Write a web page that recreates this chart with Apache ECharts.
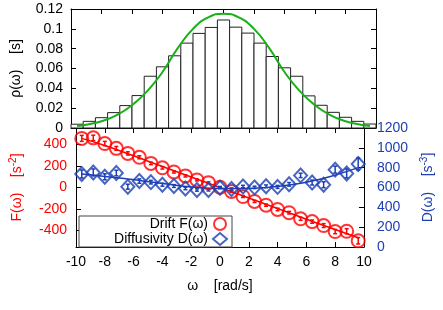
<!DOCTYPE html>
<html><head><meta charset="utf-8">
<script src="https://cdn.jsdelivr.net/npm/echarts@6/dist/echarts.min.js"></script>
<style>html,body{margin:0;padding:0;background:#fff}#c{width:443px;height:310px}</style>
</head><body><div id="c"></div>
<script>
// ---- data ----
const omega = [-9.6,-8.8,-8.0,-7.2,-6.4,-5.6,-4.8,-4.0,-3.2,-2.4,-1.6,-0.8,0.0,0.8,1.6,2.4,3.2,4.0,4.8,5.6,6.4,7.2,8.0,8.8,9.6];
const binWidth = 0.8;
const density = [0.0038,0.0067,0.0104,0.0155,0.0226,0.0327,0.0522,0.0617,0.0728,0.0856,0.0954,0.1014,0.1089,0.1017,0.0957,0.0856,0.0721,0.0607,0.0522,0.0324,0.0229,0.0158,0.0108,0.0067,0.0040];
const curveOmega = [-9.6,-9,-8,-7,-6,-5,-4,-3,-2,-1,0,1,2,3,4,5,6,7,8,9,9.6];
const curveRho = [0.0020,0.0033,0.0068,0.0130,0.0230,0.0372,0.0565,0.0805,0.1000,0.1115,0.1152,0.1115,0.1000,0.0805,0.0565,0.0372,0.0230,0.0130,0.0068,0.0033,0.0020];
const drift = [458,463,410,365,318,282,225,184,145,108,70,45,2,-37,-84,-130,-165,-205,-235,-292,-318,-355,-411,-408,-497];
const driftErr = [28,25,20,18,15,14,12,12,10,10,9,8,8,8,9,10,10,12,12,14,15,18,20,24,30];
const diffusivity = [736,752,708,746,608,665,654,628,615,590,575,575,598,585,610,601,612,606,632,722,650,628,780,742,837];
const diffErr = [40,35,30,28,25,22,18,15,14,12,12,10,10,10,12,12,14,15,18,22,25,30,35,45,60];
const driftFitOmega = [-9.6,-8,-6,-4,-2,0,2,4,6,8,9.6];
const driftFit = [458,392,296,196,98,0,-98,-196,-296,-392,-468];
const diffFitOmega = [-9.6,-8,-6.4,-4.8,-3.2,-1.6,0,1.6,3.2,4.8,6.4,8,9.6];
const diffFit = [735,712,685,655,625,600,590,590,600,625,665,725,800];
const fTicks = [-400,-200,0,200,400];

const RED = '#ff0000', BLUE = '#1c3fb4', GREEN = '#18b018';
const FONT = 'Liberation Sans';

function zip(a, b, c) { return a.map((v, i) => c ? [v, b[i], c[i]] : [v, b[i]]); }

function renderBar(params, api) {
  const x = api.value(0), h = api.value(1);
  const p0 = api.coord([x - binWidth / 2, h]);
  const p1 = api.coord([x + binWidth / 2, 0]);
  return { type: 'rect', shape: { x: p0[0], y: p0[1], width: p1[0] - p0[0], height: p1[1] - p0[1] },
    style: { fill: '#fff', stroke: '#222', lineWidth: 1 } };
}
function errItem(color) {
  return function (params, api) {
    const x = api.value(0), y = api.value(1), e = api.value(2);
    const t = api.coord([x, y + e]), b = api.coord([x, y - e]);
    const c = 2;
    const st = { stroke: color, lineWidth: 1.5 };
    return { type: 'group', children: [
      { type: 'line', shape: { x1: t[0], y1: t[1], x2: b[0], y2: b[1] }, style: st },
      { type: 'line', shape: { x1: t[0] - c, y1: t[1], x2: t[0] + c, y2: t[1] }, style: st },
      { type: 'line', shape: { x1: b[0] - c, y1: b[1], x2: b[0] + c, y2: b[1] }, style: st }
    ] };
  };
}

const tick = { show: true, inside: true, length: 5, lineStyle: { color: '#000' } };
const line = { show: true, onZero: false, lineStyle: { color: '#000', width: 1 } };
const txt = { fontFamily: FONT, fontSize: 14 };
const plain = v => String(v);

function xAx(grid, pos, labels, extra) {
  return Object.assign({ type: 'value', gridIndex: grid, position: pos, min: -10, max: 10, interval: 2,
    axisLine: line, axisTick: tick, splitLine: { show: false },
    axisLabel: labels ? Object.assign({ color: '#000', margin: 8, formatter: plain }, txt) : { show: false } }, extra || {});
}

const chart = echarts.init(document.getElementById('c'));
chart.setOption({
  animation: false,
  backgroundColor: '#fff',
  grid: [
    { left: 71, right: 67, top: 9, height: 119 },
    { left: 71, right: 67, top: 128, height: 119 }
  ],
  xAxis: [
    xAx(0, 'bottom', false),
    xAx(0, 'top', false),
    xAx(1, 'bottom', true, { name: 'ω    [rad/s]', nameLocation: 'middle', nameGap: 32,
      nameTextStyle: Object.assign({ color: '#000' }, txt) }),
    xAx(1, 'top', false)
  ],
  yAxis: [
    { type: 'value', gridIndex: 0, position: 'left', min: 0, max: 0.12, interval: 0.02,
      axisLine: line, axisTick: tick, splitLine: { show: false },
      axisLabel: Object.assign({ color: '#000', margin: 8 }, txt),
      name: 'ρ(ω)    [s]', nameLocation: 'middle', nameGap: 48,
      nameTextStyle: Object.assign({ color: '#000' }, txt) },
    { type: 'value', gridIndex: 0, position: 'right', min: 0, max: 0.12, interval: 0.02,
      axisLine: line, axisTick: tick, splitLine: { show: false }, axisLabel: { show: false } },
    { type: 'value', gridIndex: 1, position: 'left', min: -555, max: 555,
      axisLine: line, axisTick: Object.assign({ customValues: fTicks }, tick), splitLine: { show: false },
      axisLabel: Object.assign({ color: RED, margin: 9, customValues: fTicks, formatter: plain }, txt),
      name: '{a|F(ω)    [s}{b|-2}{a|]}', nameLocation: 'middle', nameGap: 50,
      nameTextStyle: { color: RED, rich: { a: { color: RED, fontFamily: FONT, fontSize: 14, lineHeight: 18 },
        b: { color: RED, fontFamily: FONT, fontSize: 10, verticalAlign: 'top', lineHeight: 18 } } } },
    { type: 'value', gridIndex: 1, position: 'right', min: 0, max: 1200, interval: 200,
      axisLine: line, axisTick: tick, splitLine: { show: false },
      axisLabel: Object.assign({ color: BLUE, margin: 13, formatter: plain }, txt),
      name: '{a|D(ω)    [s}{b|-3}{a|]}', nameLocation: 'middle', nameGap: 46,
      nameTextStyle: { color: BLUE, rich: { a: { color: BLUE, fontFamily: FONT, fontSize: 14, lineHeight: 18 },
        b: { color: BLUE, fontFamily: FONT, fontSize: 10, verticalAlign: 'top', lineHeight: 18 } } } }
  ],
  legend: {
    left: 79, top: 216, orient: 'vertical', align: 'right',
    itemWidth: 14, itemHeight: 12, itemGap: 1,
    padding: [1, 4, 1, 4],
    borderColor: '#444', borderWidth: 1, backgroundColor: '#fff',
    formatter: n => '{t|' + n + '}',
    textStyle: { color: '#000', fontFamily: FONT, fontSize: 14,
      rich: { t: { width: 125, align: 'right', fontFamily: FONT, fontSize: 14, lineHeight: 13, color: '#000' } } },
    data: [
      { name: 'Drift F(ω)', icon: 'circle', itemStyle: { color: 'rgba(0,0,0,0)', borderColor: RED, borderWidth: 2 } },
      { name: 'Diffusivity D(ω)', icon: 'diamond', itemStyle: { color: 'rgba(0,0,0,0)', borderColor: BLUE, borderWidth: 2 } }
    ]
  },
  series: [
    { type: 'custom', name: 'hist', xAxisIndex: 0, yAxisIndex: 0, renderItem: renderBar,
      data: zip(omega, density), z: 2 },
    { type: 'line', name: 'gauss', xAxisIndex: 0, yAxisIndex: 0, data: zip(curveOmega, curveRho),
      smooth: true, showSymbol: false, lineStyle: { color: GREEN, width: 2 }, z: 3 },
    { type: 'line', name: 'driftFit', xAxisIndex: 2, yAxisIndex: 2, data: zip(driftFitOmega, driftFit),
      smooth: true, showSymbol: false, lineStyle: { color: RED, width: 1.5 }, z: 3 },
    { type: 'line', name: 'diffFit', xAxisIndex: 2, yAxisIndex: 3, data: zip(diffFitOmega, diffFit),
      smooth: true, showSymbol: false, lineStyle: { color: BLUE, width: 1.5 }, z: 3 },
    { type: 'custom', name: 'driftErr', xAxisIndex: 2, yAxisIndex: 2, renderItem: errItem(RED),
      data: zip(omega, drift, driftErr), z: 4 },
    { type: 'custom', name: 'diffErr', xAxisIndex: 2, yAxisIndex: 3, renderItem: errItem(BLUE),
      data: zip(omega, diffusivity, diffErr), z: 4 },
    { type: 'scatter', name: 'Drift F(ω)', xAxisIndex: 2, yAxisIndex: 2, data: zip(omega, drift),
      symbol: 'circle', symbolSize: 13,
      itemStyle: { color: 'rgba(0,0,0,0)', borderColor: RED, borderWidth: 2 }, z: 5 },
    { type: 'scatter', name: 'Diffusivity D(ω)', xAxisIndex: 2, yAxisIndex: 3, data: zip(omega, diffusivity),
      symbol: 'diamond', symbolSize: [13, 14],
      itemStyle: { color: 'rgba(0,0,0,0)', borderColor: BLUE, borderWidth: 2 }, z: 5 }
  ]
});
</script></body></html>
